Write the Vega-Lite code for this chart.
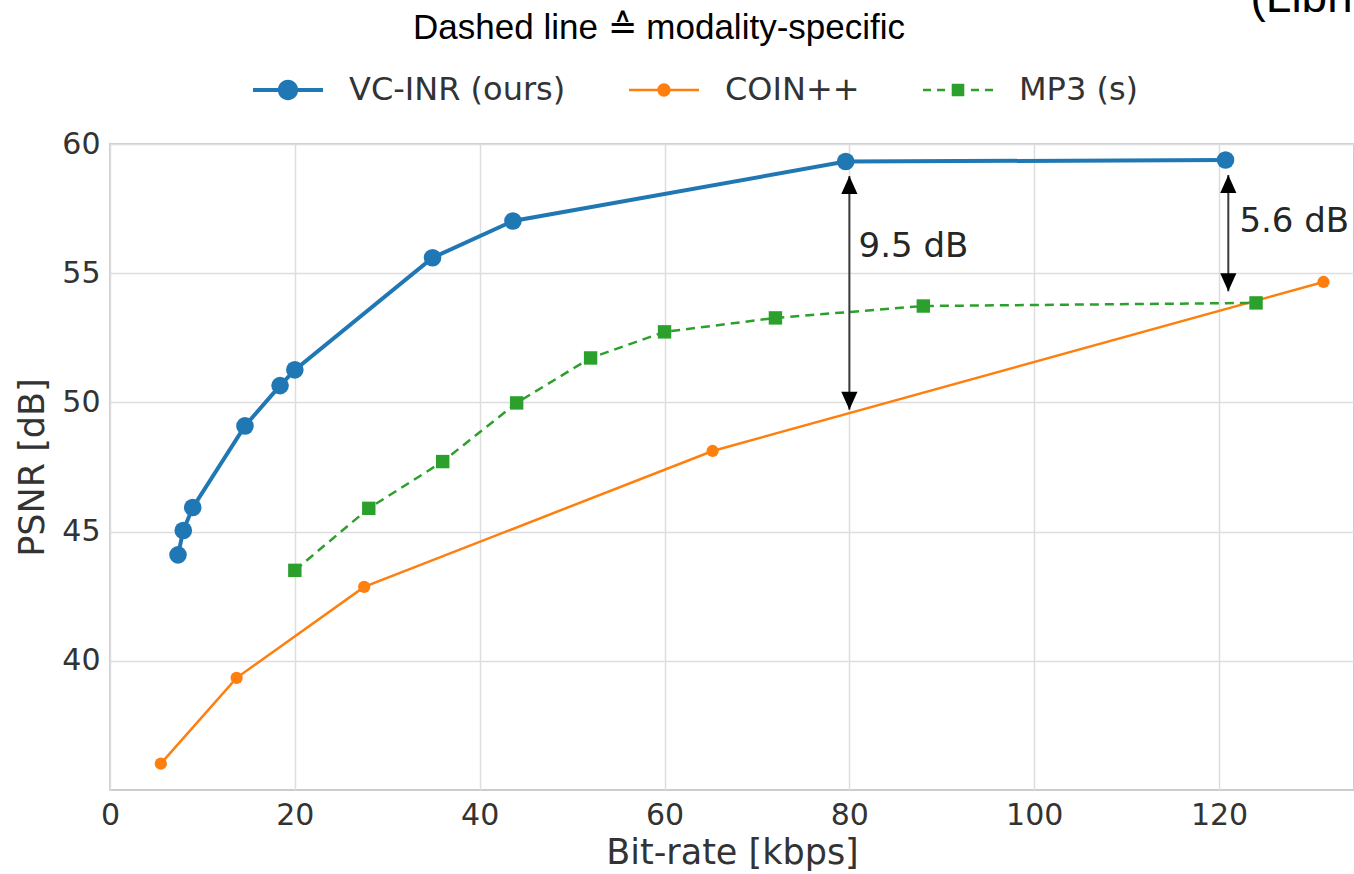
{
  "$schema": "https://vega.github.io/schema/vega-lite/v6.json",
  "width": 1244,
  "height": 646,
  "autosize": "none",
  "padding": {"left": 110, "top": 144, "right": 0, "bottom": 84},
  "background": "white",
  "title": {
    "text": "Dashed line ≙ modality-specific",
    "font": "Liberation Sans",
    "fontSize": 35,
    "fontWeight": "normal",
    "color": "#000000",
    "anchor": "middle",
    "frame": "group",
    "baseline": "alphabetic",
    "dx": -73,
    "dy": 117,
    "offset": 18
  },
  "datasets": {
    "curves": [
      {"series": "VC-INR (ours)", "bitrate": 7.36, "psnr": 44.1},
      {"series": "VC-INR (ours)", "bitrate": 7.93, "psnr": 45.04},
      {"series": "VC-INR (ours)", "bitrate": 8.95, "psnr": 45.93},
      {"series": "VC-INR (ours)", "bitrate": 14.6, "psnr": 49.09},
      {"series": "VC-INR (ours)", "bitrate": 18.4, "psnr": 50.65},
      {"series": "VC-INR (ours)", "bitrate": 20.0, "psnr": 51.26},
      {"series": "VC-INR (ours)", "bitrate": 34.9, "psnr": 55.6},
      {"series": "VC-INR (ours)", "bitrate": 43.6, "psnr": 57.02},
      {"series": "VC-INR (ours)", "bitrate": 79.6, "psnr": 59.32},
      {"series": "VC-INR (ours)", "bitrate": 120.7, "psnr": 59.38},
      {"series": "COIN++", "bitrate": 5.5, "psnr": 36.02},
      {"series": "COIN++", "bitrate": 13.7, "psnr": 39.34},
      {"series": "COIN++", "bitrate": 27.5, "psnr": 42.86},
      {"series": "COIN++", "bitrate": 65.2, "psnr": 48.12},
      {"series": "COIN++", "bitrate": 131.3, "psnr": 54.66},
      {"series": "MP3 (s)", "bitrate": 20.0, "psnr": 43.5},
      {"series": "MP3 (s)", "bitrate": 28.0, "psnr": 45.9},
      {"series": "MP3 (s)", "bitrate": 36.0, "psnr": 47.71},
      {"series": "MP3 (s)", "bitrate": 44.0, "psnr": 49.98},
      {"series": "MP3 (s)", "bitrate": 52.0, "psnr": 51.72},
      {"series": "MP3 (s)", "bitrate": 60.0, "psnr": 52.73},
      {"series": "MP3 (s)", "bitrate": 72.0, "psnr": 53.27},
      {"series": "MP3 (s)", "bitrate": 88.0, "psnr": 53.73},
      {"series": "MP3 (s)", "bitrate": 124.0, "psnr": 53.85}
    ],
    "arrows": [
      {"bitrate": 80.0, "low": 49.72, "high": 58.76, "label": "9.5 dB", "lx": 81.0, "ly": 56.0},
      {"bitrate": 121.0, "low": 54.3, "high": 58.8, "label": "5.6 dB", "lx": 122.2, "ly": 57.0}
    ],
    "corner": [
      {"bitrate": 123.4, "psnr": 65.1, "label": "(LibriSpeech)"}
    ]
  },
  "encoding": {
    "x": {
      "field": "bitrate", "type": "quantitative",
      "scale": {"domain": [0, 134.6], "nice": false, "zero": false},
      "axis": {"values": [0, 20, 40, 60, 80, 100, 120], "title": "Bit-rate [kbps]"}
    },
    "y": {
      "field": "psnr", "type": "quantitative",
      "scale": {"domain": [35, 60], "nice": false, "zero": false},
      "axis": {"values": [40, 45, 50, 55, 60], "title": "PSNR [dB]"}
    }
  },
  "layer": [
    {
      "data": {"name": "curves"},
      "transform": [{"filter": "datum.series === 'COIN++'"}],
      "mark": {"type": "line", "color": "#ff7f0e", "strokeWidth": 2.5},
      "encoding": {}
    },
    {
      "data": {"name": "curves"},
      "transform": [{"filter": "datum.series === 'COIN++'"}],
      "mark": {"type": "point", "shape": "circle", "filled": true, "color": "#ff7f0e", "size": 150, "opacity": 1},
      "encoding": {}
    },
    {
      "data": {"name": "curves"},
      "transform": [{"filter": "datum.series === 'MP3 (s)'"}],
      "mark": {"type": "line", "color": "#2ca02c", "strokeWidth": 2.5, "strokeDash": [9, 6]},
      "encoding": {}
    },
    {
      "data": {"name": "curves"},
      "transform": [{"filter": "datum.series === 'MP3 (s)'"}],
      "mark": {"type": "point", "shape": "square", "filled": true, "color": "#2ca02c", "size": 180, "opacity": 1},
      "encoding": {}
    },
    {
      "data": {"name": "curves"},
      "transform": [{"filter": "datum.series === 'VC-INR (ours)'"}],
      "mark": {"type": "line", "color": "#1f77b4", "strokeWidth": 4},
      "encoding": {}
    },
    {
      "data": {"name": "curves"},
      "transform": [{"filter": "datum.series === 'VC-INR (ours)'"}],
      "mark": {"type": "point", "shape": "circle", "filled": true, "color": "#1f77b4", "size": 310, "opacity": 1},
      "encoding": {}
    },
    {
      "data": {"name": "arrows"},
      "mark": {"type": "rule", "color": "#3a3a3a", "strokeWidth": 2},
      "encoding": {
        "y": {"field": "low", "type": "quantitative"},
        "y2": {"field": "high"}
      }
    },
    {
      "data": {"name": "arrows"},
      "mark": {"type": "point", "filled": true, "color": "#000000", "opacity": 1, "size": 1296, "strokeWidth": 0,
               "shape": "M0,0L-0.45,1L0.45,1Z"},
      "encoding": {
        "y": {"field": "high", "type": "quantitative"}
      }
    },
    {
      "data": {"name": "arrows"},
      "mark": {"type": "point", "filled": true, "color": "#000000", "opacity": 1, "size": 1296, "strokeWidth": 0,
               "shape": "M0,0L-0.45,-1L0.45,-1Z"},
      "encoding": {
        "y": {"field": "low", "type": "quantitative"}
      }
    },
    {
      "data": {"name": "arrows"},
      "mark": {"type": "text", "font": "DejaVu Sans", "fontSize": 34, "color": "#262626", "align": "left", "baseline": "middle"},
      "encoding": {
        "x": {"field": "lx", "type": "quantitative"},
        "y": {"field": "ly", "type": "quantitative"},
        "text": {"field": "label"}
      }
    },
    {
      "data": {"name": "corner"},
      "mark": {"type": "text", "font": "Liberation Sans", "fontSize": 46, "color": "#000000", "align": "left", "baseline": "alphabetic", "clip": false},
      "encoding": {
        "text": {"field": "label"}
      }
    },
    {
      "data": {"name": "curves"},
      "transform": [{"filter": "false"}],
      "mark": {"type": "point", "filled": true, "opacity": 1},
      "encoding": {
        "color": {
          "field": "series", "type": "nominal",
          "scale": {"domain": ["VC-INR (ours)", "COIN++", "MP3 (s)"], "range": ["#1f77b4", "#ff7f0e", "#2ca02c"]},
          "legend": {
            "orient": "none", "legendX": 143, "legendY": -89, "direction": "horizontal", "title": null
          }
        },
        "shape": {
          "field": "series", "type": "nominal",
          "scale": {
            "domain": ["VC-INR (ours)", "COIN++", "MP3 (s)"],
            "range": [
              "M-1,-0.06H1V0.06H-1Z M-0.29,0A0.29,0.29 0 1,1 0.29,0A0.29,0.29 0 1,1 -0.29,0Z",
              "M-1,-0.036H1V0.036H-1Z M-0.19,0A0.19,0.19 0 1,1 0.19,0A0.19,0.19 0 1,1 -0.19,0Z",
              "M-1,-0.034H-0.77V0.034H-1Z M-0.6,-0.034H-0.37V0.034H-0.6Z M-0.18,-0.18H0.18V0.18H-0.18Z M0.37,-0.034H0.6V0.034H0.37Z M0.77,-0.034H1V0.034H0.77Z"
            ]
          },
          "legend": {
            "orient": "none", "legendX": 143, "legendY": -89, "direction": "horizontal", "title": null
          }
        }
      }
    }
  ],
  "config": {
    "view": {"stroke": "#cccccc", "strokeWidth": 2},
    "axis": {
      "grid": true,
      "gridColor": "#dddddd",
      "gridWidth": 1.5,
      "domain": false,
      "ticks": false,
      "labelFlush": false,
      "labelFont": "DejaVu Sans",
      "labelFontSize": 30,
      "labelColor": "#333333",
      "labelPadding": 10,
      "titleFont": "DejaVu Sans",
      "titleFontSize": 35,
      "titleFontWeight": "normal",
      "titleColor": "#333333"
    },
    "axisX": {"titlePadding": 5},
    "axisY": {"titlePadding": 11},
    "legend": {
      "labelFont": "DejaVu Sans",
      "labelFontSize": 32,
      "labelColor": "#333333",
      "symbolSize": 4900,
      "symbolStrokeWidth": 0,
      "symbolOpacity": 1,
      "labelOffset": 26,
      "columnPadding": 63,
      "padding": 0,
      "labelLimit": 400
    }
  }
}
